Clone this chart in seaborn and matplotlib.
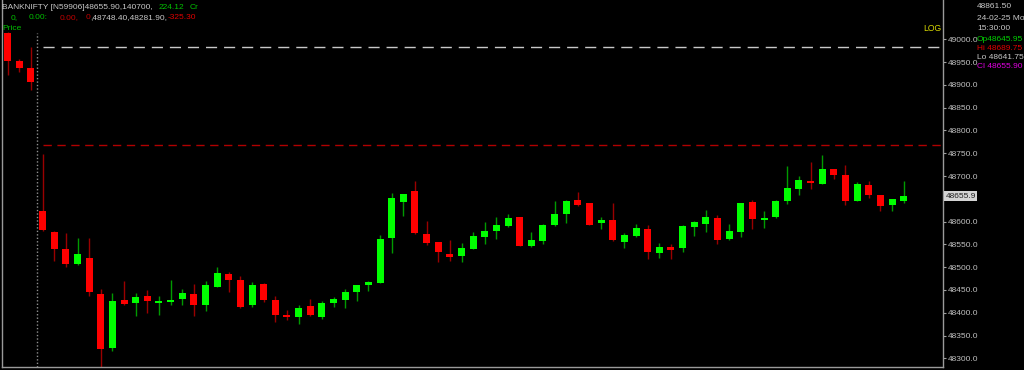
import numpy as np
import pandas as pd
import matplotlib
matplotlib.use("Agg")
import matplotlib.pyplot as plt
import seaborn as sns

# ---------------- data ----------------
opens = [49013, 48953, 48938, 48623, 48577, 48540, 48506, 48520, 48441, 48322,
         48427, 48421, 48437, 48422, 48424, 48431, 48441, 48417, 48457, 48486,
         48472, 48417, 48464, 48428, 48395, 48391, 48415, 48391, 48421, 48428,
         48446, 48460, 48466, 48565, 48644, 48666, 48573, 48555, 48529, 48525,
         48540, 48566, 48579, 48590, 48609, 48547, 48558, 48593, 48617, 48647,
         48640, 48596, 48604, 48556, 48568, 48584, 48531, 48544, 48543, 48588,
         48594, 48607, 48561, 48578, 48643, 48604, 48609, 48646, 48672, 48690,
         48682, 48715, 48702, 48646, 48680, 48658, 48636, 48645.95]
highs = [49015, 48956, 48984, 48748.4, 48580, 48576, 48565, 48564, 48451, 48443,
         48470, 48444, 48450, 48437, 48472, 48451, 48463, 48470, 48501, 48489,
         48481, 48467, 48465, 48437, 48407, 48417, 48430, 48426, 48435, 48452,
         48461, 48470, 48571, 48663, 48660, 48690, 48601, 48556, 48560, 48552,
         48577, 48600, 48609, 48617, 48610, 48578, 48595, 48646, 48648, 48665,
         48641, 48611, 48640, 48574, 48595, 48593, 48554, 48550, 48593, 48601,
         48625, 48614, 48594, 48641, 48648, 48624, 48648, 48722, 48699, 48731,
         48747, 48716, 48724, 48686, 48689, 48659, 48650, 48689.75]
lows = [48922, 48928, 48889, 48579, 48514, 48500, 48505, 48437, 48281.9, 48316,
        48417, 48393, 48399, 48396, 48416, 48416, 48393, 48404, 48457, 48446,
        48411, 48412, 48423, 48380, 48384, 48375, 48393, 48386, 48413, 48410,
        48426, 48448, 48465, 48530, 48613, 48573, 48549, 48511, 48514, 48511,
        48539, 48551, 48561, 48589, 48546, 48545, 48550, 48590, 48596, 48634,
        48592, 48583, 48558, 48543, 48567, 48518, 48520, 48518, 48534, 48569,
        48577, 48550, 48560, 48567, 48583, 48585, 48608, 48639, 48658, 48671,
        48682, 48693, 48637, 48645, 48651, 48624, 48624, 48641.75]
closes = [48952, 48936, 48906, 48582, 48540, 48506, 48529, 48446, 48320, 48426,
          48419, 48434, 48426, 48425, 48428, 48443, 48416, 48461, 48488, 48472,
          48413, 48460, 48429, 48396, 48391, 48410, 48394, 48421, 48430, 48445,
          48461, 48467, 48561, 48651, 48660, 48574, 48552, 48533, 48523, 48541,
          48568, 48579, 48592, 48607, 48547, 48559, 48593, 48617, 48645, 48637,
          48593, 48603, 48559, 48570, 48585, 48534, 48544, 48538, 48590, 48598,
          48609, 48559, 48579, 48641, 48606, 48608, 48645, 48673, 48691, 48685,
          48715, 48702, 48645, 48682, 48658, 48634, 48650, 48655.90]

y_ticks = [48300, 48350, 48400, 48450, 48500, 48550, 48600, 48650,
           48700, 48750, 48800, 48850, 48900, 48950, 49000]
prev_level_grey = 48984
prev_level_red = 48767
day_start = 3
last_price = 48655.9

info_lines = ["48861.50", "24-02-25 Mo", "15:30:00",
              "Op48645.95", "Hi 48689.75", "Lo 48641.75", "Cl 48655.90"]

df = pd.DataFrame({"idx": np.arange(len(opens)), "open": opens, "high": highs,
                   "low": lows, "close": closes})
df["up"] = df["close"] >= df["open"]

# ---------------- style ----------------
sns.set_theme(style="dark", rc={"axes.facecolor": "black", "figure.facecolor": "black",
                                "axes.grid": False})
plt.rcParams["font.family"] = ["Liberation Sans", "DejaVu Sans"]

W, H = 1024, 370
fig = plt.figure(figsize=(W / 100, H / 100), dpi=100, facecolor="black")
ax = fig.add_axes([2 / W, 3 / H, 941 / W, 367 / H], facecolor="black")

BODY_UP, BODY_DN = "#00ff00", "#ff0000"
WICK_UP, WICK_DN = "#009a00", "#9a0000"

# wicks
ax.vlines(df["idx"], df["low"], df["high"],
          colors=np.where(df["up"], WICK_UP, WICK_DN), linewidth=1.0, zorder=2)
# bodies
body_lo = np.minimum(df["open"], df["close"])
body_h = np.maximum(np.abs(df["close"] - df["open"]), 3.0)
ax.bar(df["idx"], body_h, bottom=body_lo, width=0.6,
       color=np.where(df["up"], BODY_UP, BODY_DN), linewidth=0, zorder=3)

# reference levels
ax.hlines(prev_level_grey, day_start, 80.1, colors="#c8c8c8", linewidth=1.0,
          linestyles=(0, (8, 5)), zorder=1)
ax.hlines(prev_level_red, day_start, 80.4, colors="#b00000", linewidth=1.0,
          linestyles=(0, (6, 4)), zorder=1)
ax.axvline(day_start - 0.5, ymax=0.91, color="#909090", linewidth=1.0,
           linestyle=(0, (1, 1.5)), zorder=1)

ax.set_xlim(-0.49, 80.38)
ax.set_ylim(48280.9, 49086.2)

ax.yaxis.tick_right()
ax.set_yticks(y_ticks)
# the last-price tag sits over the 48650 label, so that label is left blank
ax.set_yticklabels(["" if abs(t - last_price) < 25 else f"{t:.1f}" for t in y_ticks])
ax.tick_params(axis="y", which="both", right=True, left=False, length=2.5, width=0.8,
               color="#a0a0a0", labelcolor="#c0c0c0", labelsize=6.0, pad=1)
ax.set_xticks([])
for side in ["left", "right", "bottom"]:
    ax.spines[side].set_visible(True)
    ax.spines[side].set_color("#9a9a9a")
    ax.spines[side].set_linewidth(1.0)
ax.spines["top"].set_visible(False)

# last price tag
ax.text(1.0025, last_price, f"{last_price:.1f}", transform=ax.get_yaxis_transform(),
        ha="left", va="center", fontsize=6.0, color="#202020", zorder=10, clip_on=False,
        bbox=dict(boxstyle="square,pad=0.2", facecolor="#d4d4d4", edgecolor="none"))

# ---------------- header texts ----------------
def ftxt(x, y, s, color, size=6.0):
    fig.text(x / W, 1 - y / H, s, color=color, fontsize=size, ha="left", va="center")

ftxt(2, 7.5, "BANKNIFTY [N59906]48655.90,140700,", "#c8c8c8")
ftxt(159, 7.5, "224.12", "#00c000")
ftxt(190, 7.5, "Cr", "#00c000")
ftxt(11, 17.5, "0,", "#00c000")
ftxt(29, 17.5, "0.00:", "#00c000")
ftxt(60, 17.5, "0.00,", "#c00000")
ftxt(86, 17.5, "0", "#c00000")
ftxt(90, 17.5, ",48748.40,48281.90,", "#c8c8c8")
ftxt(168, 17.5, "-325.30", "#e00000")
ftxt(2, 28, "Price", "#00c000")

fig.text(941 / W, 1 - 28.5 / H, "LOG", color="#d8d800", fontsize=6.2, ha="right", va="center")

info_colors = ["#c8c8c8", "#c8c8c8", "#c8c8c8", "#00d000", "#e00000", "#c8c8c8", "#e000e0"]
info_y = [7, 18, 29, 39.5, 48.5, 57.5, 67]
for s, c, yy in zip(info_lines, info_colors, info_y):
    ftxt(977, yy, s, c, size=6.0)

fig.savefig("out.png", dpi=100, facecolor="black")
